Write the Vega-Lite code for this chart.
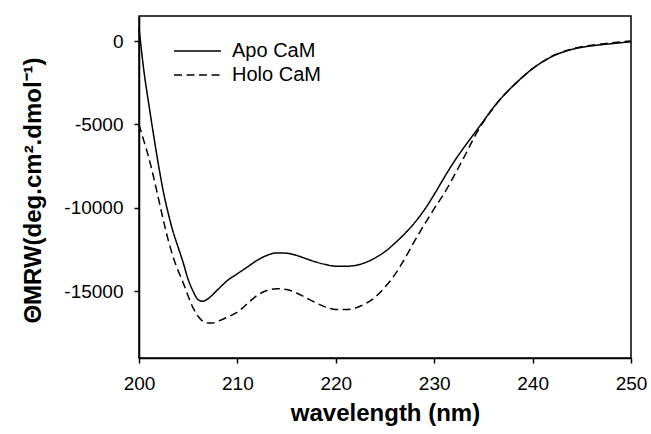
{
  "$schema": "https://vega.github.io/schema/vega-lite/v6.json",
  "width": 492,
  "height": 342,
  "autosize": "none",
  "padding": {"left": 139, "top": 16, "right": 20, "bottom": 76},
  "background": "white",
  "config": {
    "view": {"stroke": "black", "strokeWidth": 1.5},
    "axis": {
      "grid": false,
      "labelFlush": false,
      "domainColor": "black",
      "domainWidth": 1.5,
      "tickColor": "black",
      "tickWidth": 1.5,
      "tickSize": 5,
      "labelColor": "black",
      "titleColor": "black",
      "labelFont": "Liberation Sans",
      "titleFont": "Liberation Sans",
      "labelFontSize": 19,
      "titleFontSize": 24,
      "titleFontWeight": "bold"
    }
  },
  "data": {
    "values": [
      {"wavelength": 200, "theta": 800, "sample": "Apo CaM"},
      {"wavelength": 200.5, "theta": -1800, "sample": "Apo CaM"},
      {"wavelength": 201, "theta": -3800, "sample": "Apo CaM"},
      {"wavelength": 201.5, "theta": -5700, "sample": "Apo CaM"},
      {"wavelength": 202, "theta": -7500, "sample": "Apo CaM"},
      {"wavelength": 202.5, "theta": -9100, "sample": "Apo CaM"},
      {"wavelength": 203, "theta": -10400, "sample": "Apo CaM"},
      {"wavelength": 203.5, "theta": -11500, "sample": "Apo CaM"},
      {"wavelength": 204, "theta": -12400, "sample": "Apo CaM"},
      {"wavelength": 204.5, "theta": -13300, "sample": "Apo CaM"},
      {"wavelength": 205, "theta": -14300, "sample": "Apo CaM"},
      {"wavelength": 205.5, "theta": -15000, "sample": "Apo CaM"},
      {"wavelength": 206, "theta": -15500, "sample": "Apo CaM"},
      {"wavelength": 206.5, "theta": -15600, "sample": "Apo CaM"},
      {"wavelength": 207, "theta": -15450, "sample": "Apo CaM"},
      {"wavelength": 208, "theta": -14900, "sample": "Apo CaM"},
      {"wavelength": 209, "theta": -14350, "sample": "Apo CaM"},
      {"wavelength": 210, "theta": -13950, "sample": "Apo CaM"},
      {"wavelength": 211, "theta": -13550, "sample": "Apo CaM"},
      {"wavelength": 212, "theta": -13150, "sample": "Apo CaM"},
      {"wavelength": 213, "theta": -12850, "sample": "Apo CaM"},
      {"wavelength": 214, "theta": -12700, "sample": "Apo CaM"},
      {"wavelength": 215, "theta": -12720, "sample": "Apo CaM"},
      {"wavelength": 216, "theta": -12850, "sample": "Apo CaM"},
      {"wavelength": 217, "theta": -13050, "sample": "Apo CaM"},
      {"wavelength": 218, "theta": -13250, "sample": "Apo CaM"},
      {"wavelength": 219, "theta": -13400, "sample": "Apo CaM"},
      {"wavelength": 220, "theta": -13500, "sample": "Apo CaM"},
      {"wavelength": 221, "theta": -13500, "sample": "Apo CaM"},
      {"wavelength": 222, "theta": -13450, "sample": "Apo CaM"},
      {"wavelength": 223, "theta": -13280, "sample": "Apo CaM"},
      {"wavelength": 224, "theta": -13000, "sample": "Apo CaM"},
      {"wavelength": 225, "theta": -12620, "sample": "Apo CaM"},
      {"wavelength": 226, "theta": -12120, "sample": "Apo CaM"},
      {"wavelength": 227, "theta": -11550, "sample": "Apo CaM"},
      {"wavelength": 228, "theta": -10900, "sample": "Apo CaM"},
      {"wavelength": 229, "theta": -10120, "sample": "Apo CaM"},
      {"wavelength": 230, "theta": -9200, "sample": "Apo CaM"},
      {"wavelength": 231, "theta": -8200, "sample": "Apo CaM"},
      {"wavelength": 232, "theta": -7250, "sample": "Apo CaM"},
      {"wavelength": 233, "theta": -6400, "sample": "Apo CaM"},
      {"wavelength": 234, "theta": -5600, "sample": "Apo CaM"},
      {"wavelength": 235, "theta": -4800, "sample": "Apo CaM"},
      {"wavelength": 236, "theta": -4000, "sample": "Apo CaM"},
      {"wavelength": 237, "theta": -3300, "sample": "Apo CaM"},
      {"wavelength": 238, "theta": -2700, "sample": "Apo CaM"},
      {"wavelength": 239, "theta": -2150, "sample": "Apo CaM"},
      {"wavelength": 240, "theta": -1650, "sample": "Apo CaM"},
      {"wavelength": 241, "theta": -1250, "sample": "Apo CaM"},
      {"wavelength": 242, "theta": -920, "sample": "Apo CaM"},
      {"wavelength": 243, "theta": -680, "sample": "Apo CaM"},
      {"wavelength": 244, "theta": -500, "sample": "Apo CaM"},
      {"wavelength": 245, "theta": -380, "sample": "Apo CaM"},
      {"wavelength": 246, "theta": -290, "sample": "Apo CaM"},
      {"wavelength": 247, "theta": -220, "sample": "Apo CaM"},
      {"wavelength": 248, "theta": -160, "sample": "Apo CaM"},
      {"wavelength": 249, "theta": -100, "sample": "Apo CaM"},
      {"wavelength": 250, "theta": -50, "sample": "Apo CaM"},
      {"wavelength": 200, "theta": -5000, "sample": "Holo CaM"},
      {"wavelength": 200.5, "theta": -6000, "sample": "Holo CaM"},
      {"wavelength": 201, "theta": -7000, "sample": "Holo CaM"},
      {"wavelength": 201.5, "theta": -8200, "sample": "Holo CaM"},
      {"wavelength": 202, "theta": -9500, "sample": "Holo CaM"},
      {"wavelength": 202.5, "theta": -10800, "sample": "Holo CaM"},
      {"wavelength": 203, "theta": -12000, "sample": "Holo CaM"},
      {"wavelength": 203.5, "theta": -13000, "sample": "Holo CaM"},
      {"wavelength": 204, "theta": -13800, "sample": "Holo CaM"},
      {"wavelength": 204.5, "theta": -14500, "sample": "Holo CaM"},
      {"wavelength": 205, "theta": -15300, "sample": "Holo CaM"},
      {"wavelength": 205.5, "theta": -16000, "sample": "Holo CaM"},
      {"wavelength": 206, "theta": -16500, "sample": "Holo CaM"},
      {"wavelength": 206.5, "theta": -16800, "sample": "Holo CaM"},
      {"wavelength": 207, "theta": -16900, "sample": "Holo CaM"},
      {"wavelength": 207.5, "theta": -16900, "sample": "Holo CaM"},
      {"wavelength": 208, "theta": -16800, "sample": "Holo CaM"},
      {"wavelength": 209, "theta": -16550, "sample": "Holo CaM"},
      {"wavelength": 210, "theta": -16250, "sample": "Holo CaM"},
      {"wavelength": 211, "theta": -15750, "sample": "Holo CaM"},
      {"wavelength": 212, "theta": -15250, "sample": "Holo CaM"},
      {"wavelength": 213, "theta": -14950, "sample": "Holo CaM"},
      {"wavelength": 214, "theta": -14850, "sample": "Holo CaM"},
      {"wavelength": 215, "theta": -14900, "sample": "Holo CaM"},
      {"wavelength": 216, "theta": -15100, "sample": "Holo CaM"},
      {"wavelength": 217, "theta": -15400, "sample": "Holo CaM"},
      {"wavelength": 218, "theta": -15700, "sample": "Holo CaM"},
      {"wavelength": 219, "theta": -15950, "sample": "Holo CaM"},
      {"wavelength": 220, "theta": -16100, "sample": "Holo CaM"},
      {"wavelength": 221, "theta": -16100, "sample": "Holo CaM"},
      {"wavelength": 222, "theta": -16000, "sample": "Holo CaM"},
      {"wavelength": 223, "theta": -15750, "sample": "Holo CaM"},
      {"wavelength": 224, "theta": -15350, "sample": "Holo CaM"},
      {"wavelength": 225, "theta": -14750, "sample": "Holo CaM"},
      {"wavelength": 226, "theta": -14000, "sample": "Holo CaM"},
      {"wavelength": 227, "theta": -13050, "sample": "Holo CaM"},
      {"wavelength": 228, "theta": -12000, "sample": "Holo CaM"},
      {"wavelength": 229, "theta": -11000, "sample": "Holo CaM"},
      {"wavelength": 230, "theta": -10050, "sample": "Holo CaM"},
      {"wavelength": 231, "theta": -9150, "sample": "Holo CaM"},
      {"wavelength": 232, "theta": -8100, "sample": "Holo CaM"},
      {"wavelength": 233, "theta": -7000, "sample": "Holo CaM"},
      {"wavelength": 234, "theta": -5850, "sample": "Holo CaM"},
      {"wavelength": 235, "theta": -4850, "sample": "Holo CaM"},
      {"wavelength": 236, "theta": -4020, "sample": "Holo CaM"},
      {"wavelength": 237, "theta": -3300, "sample": "Holo CaM"},
      {"wavelength": 238, "theta": -2700, "sample": "Holo CaM"},
      {"wavelength": 239, "theta": -2150, "sample": "Holo CaM"},
      {"wavelength": 240, "theta": -1650, "sample": "Holo CaM"},
      {"wavelength": 241, "theta": -1250, "sample": "Holo CaM"},
      {"wavelength": 242, "theta": -900, "sample": "Holo CaM"},
      {"wavelength": 243, "theta": -660, "sample": "Holo CaM"},
      {"wavelength": 244, "theta": -470, "sample": "Holo CaM"},
      {"wavelength": 245, "theta": -340, "sample": "Holo CaM"},
      {"wavelength": 246, "theta": -250, "sample": "Holo CaM"},
      {"wavelength": 247, "theta": -180, "sample": "Holo CaM"},
      {"wavelength": 248, "theta": -110, "sample": "Holo CaM"},
      {"wavelength": 249, "theta": -50, "sample": "Holo CaM"},
      {"wavelength": 250, "theta": 0, "sample": "Holo CaM"}
    ]
  },
  "mark": {"type": "line", "color": "black", "strokeWidth": 1.5, "interpolate": "monotone"},
  "encoding": {
    "x": {
      "field": "wavelength",
      "type": "quantitative",
      "scale": {"domain": [200, 250], "nice": false, "zero": false},
      "axis": {
        "values": [200, 210, 220, 230, 240, 250],
        "title": "wavelength (nm)",
        "labelPadding": 11,
        "titlePadding": 8
      }
    },
    "y": {
      "field": "theta",
      "type": "quantitative",
      "scale": {"domain": [-19000, 1500], "nice": false},
      "axis": {
        "values": [0, -5000, -10000, -15000],
        "labelExpr": "'' + datum.value",
        "title": "ΘMRW(deg.cm².dmol⁻¹)",
        "labelPadding": 11,
        "titlePadding": 18,
        "titleY": 174
      }
    },
    "strokeDash": {
      "field": "sample",
      "type": "nominal",
      "scale": {"domain": ["Apo CaM", "Holo CaM"], "range": [[1, 0], [8, 4.5]]},
      "legend": {
        "title": null,
        "orient": "none",
        "legendX": 34,
        "legendY": 23,
        "symbolType": "stroke",
        "symbolSize": 2200,
        "symbolStrokeWidth": 1.5,
        "symbolStrokeColor": "black",
        "labelFont": "Liberation Sans",
        "labelFontSize": 20,
        "labelColor": "black",
        "labelOffset": 10,
        "clipHeight": 24,
        "rowPadding": 0,
        "padding": 0
      }
    }
  }
}
